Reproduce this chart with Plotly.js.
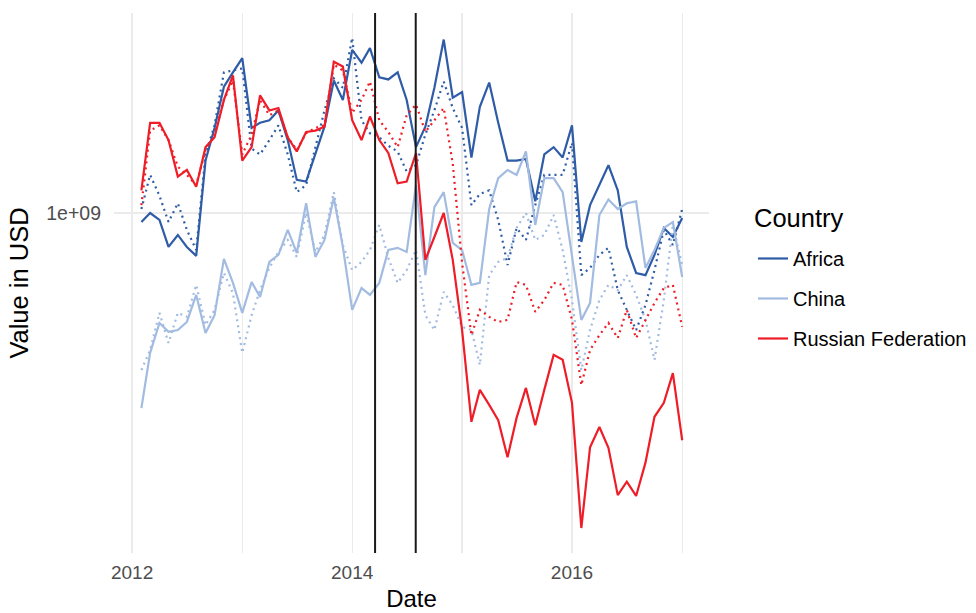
<!DOCTYPE html>
<html>
<head>
<meta charset="utf-8">
<script src="https://cdn.plot.ly/plotly-3.0.1.min.js"></script>
<style>html,body{margin:0;padding:0;background:#fff;}#chart{width:976px;height:613px;}</style>
</head>
<body>
<div id="chart"></div>
<script>
const months = [
"2012-02-01","2012-03-01","2012-04-01","2012-05-01","2012-06-01","2012-07-01","2012-08-01","2012-09-01","2012-10-01","2012-11-01","2012-12-01","2013-01-01",
"2013-02-01","2013-03-01","2013-04-01","2013-05-01","2013-06-01","2013-07-01","2013-08-01","2013-09-01","2013-10-01","2013-11-01","2013-12-01","2014-01-01",
"2014-02-01","2014-03-01","2014-04-01","2014-05-01","2014-06-01","2014-07-01","2014-08-01","2014-09-01","2014-10-01","2014-11-01","2014-12-01","2015-01-01",
"2015-02-01","2015-03-01","2015-04-01","2015-05-01","2015-06-01","2015-07-01","2015-08-01","2015-09-01","2015-10-01","2015-11-01","2015-12-01","2016-01-01",
"2016-02-01","2016-03-01","2016-04-01","2016-05-01","2016-06-01","2016-07-01","2016-08-01","2016-09-01","2016-10-01","2016-11-01","2016-12-01","2017-01-01"];

const countries = ["Africa", "China", "Russian Federation"];
const colors = ["#2f5ca6", "#a2bbe0", "#ee1d27"];

// solid lines
const africaSolid = [9.56e8,1.00e9,9.66e8,8.44e8,8.96e8,8.44e8,8.07e8,1.30e9,1.53e9,1.88e9,2.02e9,2.17e9,
1.53e9,1.57e9,1.59e9,1.67e9,1.44e9,1.18e9,1.17e9,1.34e9,1.54e9,1.94e9,1.76e9,2.26e9,
2.12e9,2.28e9,1.97e9,1.95e9,2.02e9,1.76e9,1.39e9,1.54e9,1.87e9,2.38e9,1.78e9,1.83e9,
1.32e9,1.70e9,1.92e9,1.57e9,1.30e9,1.30e9,1.31e9,1.06e9,1.34e9,1.39e9,1.32e9,1.55e9,
8.65e8,1.04e9,1.15e9,1.27e9,1.12e9,8.44e8,7.41e8,7.33e8,8.11e8,9.28e8,8.87e8,9.75e8];

const chinaSolid = [3.77e8,4.97e8,5.77e8,5.52e8,5.57e8,5.80e8,6.64e8,5.49e8,6.00e8,7.95e8,7.05e8,6.07e8,
7.08e8,6.57e8,7.83e8,8.11e8,9.19e8,8.19e8,1.05e9,8.03e8,8.74e8,1.08e9,8.44e8,6.16e8,
6.87e8,6.64e8,7.05e8,8.31e8,8.40e8,8.23e8,1.15e9,7.33e8,1.03e9,1.11e9,8.61e8,8.31e8,
6.98e8,7.05e8,1.02e9,1.19e9,1.24e9,1.21e9,1.36e9,9.42e8,1.19e9,1.19e9,1.11e9,8.03e8,
5.86e8,6.38e8,9.90e8,1.07e9,1.02e9,1.05e9,1.06e9,7.60e8,8.31e8,9.28e8,9.56e8,7.26e8];

const russiaSolid = [1.12e9,1.57e9,1.57e9,1.44e9,1.20e9,1.24e9,1.14e9,1.39e9,1.46e9,1.76e9,1.99e9,1.30e9,
1.39e9,1.80e9,1.67e9,1.69e9,1.46e9,1.36e9,1.50e9,1.51e9,1.54e9,2.13e9,2.08e9,1.59e9,
1.44e9,1.62e9,1.44e9,1.35e9,1.16e9,1.17e9,1.35e9,7.91e8,8.87e8,1.00e9,7.91e8,5.57e8,
3.52e8,4.13e8,3.83e8,3.55e8,2.95e8,3.59e8,4.17e8,3.46e8,4.13e8,4.92e8,4.80e8,3.87e8,
2.07e8,3.10e8,3.43e8,3.09e8,2.44e8,2.61e8,2.43e8,2.87e8,3.61e8,3.87e8,4.49e8,3.21e8];

// dotted lines
const africaDotted = [1.02e9,1.21e9,1.09e9,9.56e8,1.05e9,9.19e8,8.31e8,1.34e9,1.55e9,2.02e9,2.04e9,2.06e9,
1.38e9,1.34e9,1.44e9,1.55e9,1.34e9,1.11e9,1.15e9,1.40e9,1.67e9,1.96e9,1.87e9,2.40e9,
1.59e9,1.49e9,1.46e9,1.40e9,1.36e9,1.23e9,1.27e9,1.48e9,1.67e9,1.93e9,1.69e9,1.53e9,
1.04e9,1.10e9,1.12e9,9.66e8,7.71e8,9.28e8,8.74e8,1.04e9,1.21e9,1.21e9,1.21e9,1.42e9,
7.33e8,7.60e8,8.11e8,8.40e8,6.80e8,6.16e8,5.57e8,6.31e8,7.52e8,9.19e8,8.52e8,1.02e9];

const chinaDotted = [4.56e8,5.04e8,6.07e8,5.22e8,6.07e8,5.95e8,6.98e8,5.71e8,6.16e8,7.41e8,6.70e8,4.97e8,
6.00e8,6.80e8,7.60e8,8.23e8,8.74e8,8.03e8,1.00e9,8.23e8,8.96e8,1.11e9,8.52e8,7.52e8,
7.83e8,8.31e8,9.42e8,7.99e8,7.05e8,7.52e8,8.31e8,6.00e8,5.57e8,6.74e8,6.31e8,5.66e8,
5.57e8,4.68e8,7.33e8,7.83e8,7.99e8,9.28e8,1.00e9,8.74e8,8.96e8,9.90e8,8.31e8,6.47e8,
4.56e8,5.57e8,6.47e8,6.98e8,6.80e8,7.33e8,6.64e8,5.86e8,4.80e8,6.47e8,9.42e8,7.71e8];

const russiaDotted = [1.04e9,1.51e9,1.55e9,1.44e9,1.26e9,1.21e9,1.15e9,1.37e9,1.48e9,1.76e9,1.94e9,1.34e9,
1.48e9,1.76e9,1.63e9,1.67e9,1.46e9,1.37e9,1.49e9,1.53e9,1.55e9,2.10e9,2.04e9,1.65e9,
1.76e9,1.93e9,1.59e9,1.50e9,1.39e9,1.63e9,1.72e9,1.50e9,1.59e9,1.69e9,1.28e9,7.79e8,
5.43e8,6.16e8,5.95e8,5.80e8,5.86e8,7.08e8,6.98e8,6.10e8,6.47e8,7.05e8,6.98e8,5.86e8,
4.23e8,5.04e8,5.43e8,5.77e8,5.35e8,6.16e8,5.35e8,5.86e8,6.38e8,6.87e8,6.98e8,5.66e8];

const eventDates = ["2014-03-18", "2014-07-31"];

const yTickVals = [1e9];
const yTickText = ["1e+09"];
const xTickVals = ["2012-01-01","2013-01-01","2014-01-01","2015-01-01","2016-01-01","2017-01-01"];
const xTickText = ["2012","","2014","","2016",""];
const legendTitle = "Country";

const solidSeries = [africaSolid, chinaSolid, russiaSolid];
const dottedSeries = [africaDotted, chinaDotted, russiaDotted];

const traces = [];
for (let i = 0; i < countries.length; i++) {
  traces.push({
    x: months, y: dottedSeries[i], type: "scatter", mode: "lines",
    name: countries[i], legendgroup: countries[i], showlegend: false,
    line: {color: colors[i], width: 2.2, dash: "2px,4px"}, hoverinfo: "skip"
  });
  traces.push({
    x: months, y: solidSeries[i], type: "scatter", mode: "lines",
    name: countries[i], legendgroup: countries[i], showlegend: true,
    line: {color: colors[i], width: 2.2}
  });
}

const shapes = eventDates.map(d => ({
  type: "line", xref: "x", yref: "paper", x0: d, x1: d, y0: 0, y1: 1,
  line: {color: "#1a1a1a", width: 2}
}));

const font = "Liberation Sans, Arial, Helvetica, sans-serif";

const layout = {
  width: 976, height: 613,
  margin: {l: 114, r: 267, t: 13, b: 60, autoexpand: false},
  paper_bgcolor: "#ffffff", plot_bgcolor: "#ffffff",
  font: {family: font, color: "#000000"},
  showlegend: true,
  xaxis: {
    type: "date", range: ["2011-11-02", "2017-03-31"],
    tickmode: "array", tickvals: xTickVals, ticktext: xTickText,
    showgrid: true, gridcolor: "#ebebeb", gridwidth: 1.2,
    zeroline: false, showline: false, ticks: "",
    ticklabelstandoff: 6,
    tickfont: {size: 19, color: "#4d4d4d", family: font},
    title: {text: "Date", font: {size: 24, color: "#000", family: font}, standoff: 8}
  },
  yaxis: {
    type: "log", range: [8.2617, 9.4343],
    tickmode: "array", tickvals: yTickVals, ticktext: yTickText,
    showgrid: true, gridcolor: "#ebebeb", gridwidth: 1.5,
    zeroline: false, showline: false, ticks: "",
    ticklabelstandoff: 12,
    tickfont: {size: 19.5, color: "#4d4d4d", family: font},
    title: {text: "Value in USD", font: {size: 25.5, color: "#000", family: font}, standoff: 10}
  },
  legend: {
    xref: "container", x: 0.7715, xanchor: "left", y: 0.5815, yanchor: "top",
    font: {size: 20, color: "#000", family: font},
    tracegroupgap: 11, bgcolor: "rgba(0,0,0,0)"
  },
  annotations: [{
    text: legendTitle, xref: "paper", yref: "paper", x: 1.0723, y: 0.6204,
    xanchor: "left", yanchor: "middle", showarrow: false,
    font: {size: 25.5, color: "#000", family: font}
  }],
  shapes: shapes
};

Plotly.newPlot("chart", traces, layout, {displayModeBar: false, staticPlot: true});
</script>
</body>
</html>
